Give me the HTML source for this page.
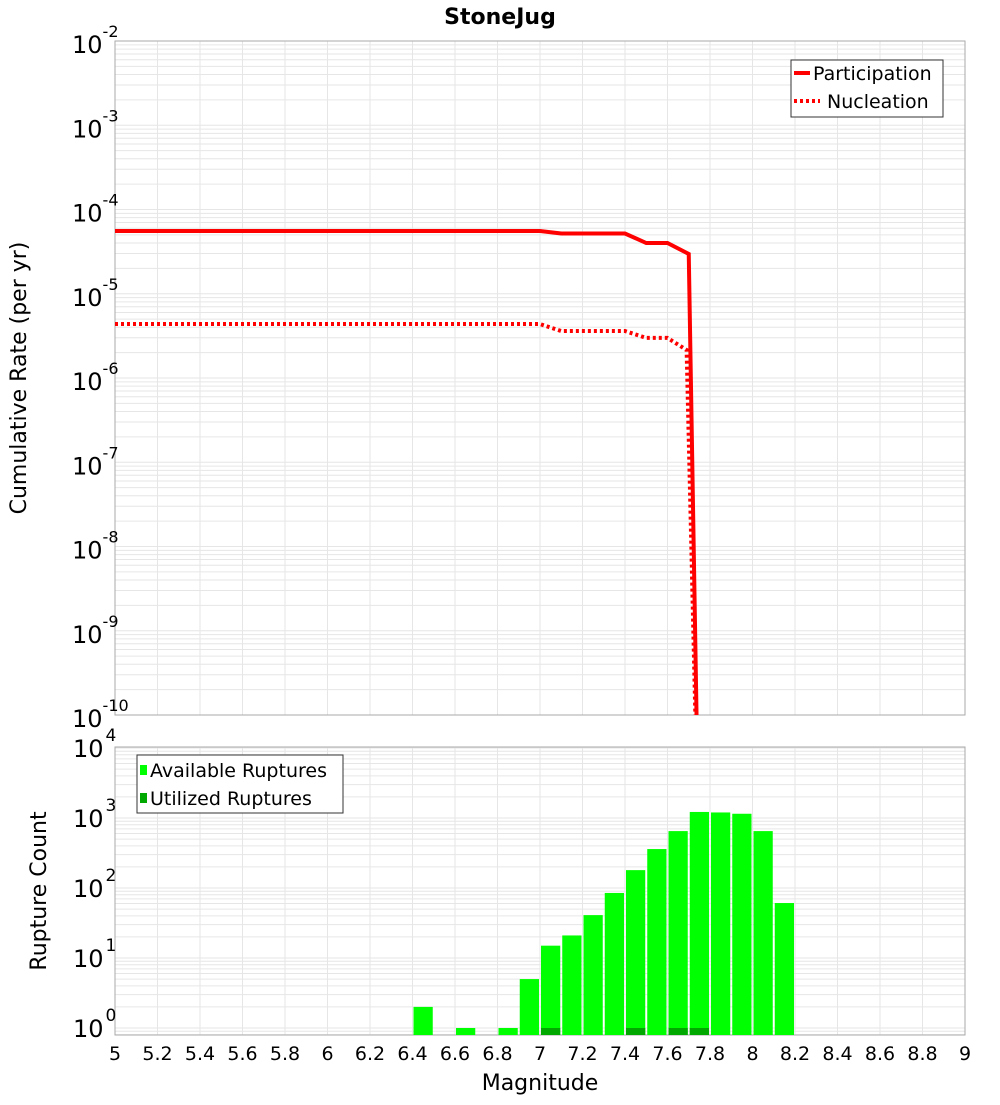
<!DOCTYPE html>
<html><head><meta charset="utf-8"><style>
body{margin:0;background:#fff;font-family:"Liberation Sans","DejaVu Sans",sans-serif}
svg text{font-family:"DejaVu Sans","Liberation Sans",sans-serif}
</style></head><body>
<svg id="c" width="1000" height="1100" xmlns="http://www.w3.org/2000/svg"></svg>
<script>
const partMags=[5.0,7.0,7.1,7.4,7.5,7.6,7.7,7.75];
const partRates=[5.56e-5,5.56e-5,5.19e-5,5.19e-5,4.0e-5,4.0e-5,2.97e-5,1e-12];
const nuclMags=[5.0,7.0,7.1,7.4,7.5,7.6,7.69,7.75];
const nuclRates=[4.37e-6,4.37e-6,3.61e-6,3.61e-6,2.99e-6,2.99e-6,2.15e-6,1e-12];
const binStarts=[6.4,6.6,6.8,6.9,7.0,7.1,7.2,7.3,7.4,7.5,7.6,7.7,7.8,7.9,8.0,8.1];
const availCounts=[2,1,1,5,15,21,41,85,180,360,650,1220,1200,1150,650,61];
const utilStarts=[7.0,7.4,7.6,7.7];
const utilCounts=[1,1,1,1];
const xTicks=[5,5.2,5.4,5.6,5.8,6,6.2,6.4,6.6,6.8,7,7.2,7.4,7.6,7.8,8,8.2,8.4,8.6,8.8,9];
const xTickLabels=["5","5.2","5.4","5.6","5.8","6","6.2","6.4","6.6","6.8","7","7.2","7.4","7.6","7.8","8","8.2","8.4","8.6","8.8","9"];
const topExps=[-2,-3,-4,-5,-6,-7,-8,-9,-10];
const botExps=[4,3,2,1,0];

const svg=document.getElementById('c');
const NS='http://www.w3.org/2000/svg';
function mk(tag,attrs,parent){const e=document.createElementNS(NS,tag);for(const k in attrs)e.setAttribute(k,attrs[k]);(parent||svg).appendChild(e);return e;}
const X0=115,X1=965;
const xs=m=>X0+(m-5)/4*(X1-X0);
const T0=41,T1=715;
const yTop=v=>T0+(-2-Math.log10(v))*(T1-T0)/8;
const B0=747,B1=1035;
const yBot=v=>1028-Math.log10(v)*70;

let t=mk('text',{x:500,y:24,'text-anchor':'middle','font-size':22,'font-weight':'bold'});t.textContent='StoneJug';



function grid(y0,y1,yfun,lo,hi){
  const g=mk('g',{stroke:'#e6e6e6','stroke-width':1});
  
  
  for(const v of xTicks){const x=xs(v);mk('line',{x1:x,x2:x,y1:y0,y2:y1},g);}
  for(let e=lo;e<=hi;e++)for(let k=1;k<10;k++){const y=yfun(k*Math.pow(10,e));if(y>=y0&&y<=y1)mk('line',{x1:X0,x2:X1,y1:y,y2:y},g);}
}
grid(T0,T1,yTop,-10,-2);
grid(B0,B1,yBot,-1,4);

let r=mk('rect',{x:X0,y:T0,width:X1-X0,height:T1-T0,fill:'none',stroke:'#aaa'});


r=mk('rect',{x:X0,y:B0,width:X1-X0,height:B1-B0,fill:'none',stroke:'#aaa'});



for(const e of topExps){
  const y=yTop(Math.pow(10,e));
  const tx=mk('text',{x:72,y:y+12,'font-size':24});
  
  
  tx.textContent='10';
  const s=mk('tspan',{dy:-16,'font-size':16},tx);s.textContent=String(e);
}
for(const e of botExps){
  const y=yBot(Math.pow(10,e));
  const tx=mk('text',{x:73,y:y+9,'font-size':24});
  
  
  tx.textContent='10';
  const s=mk('tspan',{dx:2,dy:-16,'font-size':17},tx);s.textContent=String(e);
}
xTicks.forEach((v,i)=>{
  const tx=mk('text',{x:xs(v),y:1060,'font-size':19,'text-anchor':'middle'});
  
  
  tx.textContent=xTickLabels[i];
});
t=mk('text',{x:540,y:1090,'font-size':22,'text-anchor':'middle'});t.textContent='Magnitude';


t=mk('text',{x:0,y:0,'font-size':22,'text-anchor':'middle',transform:'translate(26,378) rotate(-90)'});t.textContent='Cumulative Rate (per yr)';


t=mk('text',{x:0,y:0,'font-size':22,'text-anchor':'middle',transform:'translate(46,891) rotate(-90)'});t.textContent='Rupture Count';



const defs=mk('defs',{});
const cp=mk('clipPath',{id:'tc'},defs);mk('rect',{x:X0,y:T0,width:X1-X0,height:T1-T0},cp);
function line(ms,vs,dash,name){
  const pts=ms.map((m,i)=>xs(m)+','+yTop(vs[i])).join(' ');
  const a={points:pts,fill:'none',stroke:'#ff0000','stroke-width':4,'clip-path':'url(#tc)'};
  if(dash)a['stroke-dasharray']='3,3';
  const p=mk('polyline',a);
  
  
}
line(nuclMags,nuclRates,true,'nucleation-line');
line(partMags,partRates,false,'participation-line');

binStarts.forEach((m,i)=>{
  const y=yBot(availCounts[i]);
  const b=mk('rect',{x:xs(m)+1,y:y,width:xs(m+0.1)-xs(m)-2,height:B1-y,fill:'#00ff00'});
  
  
});
utilStarts.forEach((m,i)=>{
  const y=yBot(utilCounts[i]);
  const b=mk('rect',{x:xs(m)+1,y:y,width:xs(m+0.1)-xs(m)-2,height:B1-y,fill:'#00a800'});
  
  
});

let g=mk('g',{});


mk('rect',{x:791,y:60,width:152,height:57,fill:'#fff',stroke:'#333'},g);
mk('line',{x1:794,x2:810,y1:73,y2:73,stroke:'#f00','stroke-width':4},g);
mk('line',{x1:794,x2:820,y1:101,y2:101,stroke:'#f00','stroke-width':4,'stroke-dasharray':'3,3'},g);
t=mk('text',{x:813,y:80,'font-size':19},g);t.textContent='Participation';
t=mk('text',{x:827,y:108,'font-size':19},g);t.textContent='Nucleation';

g=mk('g',{});


mk('rect',{x:137,y:755,width:206,height:58,fill:'#fff',stroke:'#333'},g);
mk('rect',{x:140,y:765,width:7,height:10,fill:'#00ff00'},g);
mk('rect',{x:140,y:793,width:7,height:10,fill:'#00a800'},g);
t=mk('text',{x:150,y:777,'font-size':19},g);t.textContent='Available Ruptures';
t=mk('text',{x:150,y:805,'font-size':19},g);t.textContent='Utilized Ruptures';
</script>
</body></html>
